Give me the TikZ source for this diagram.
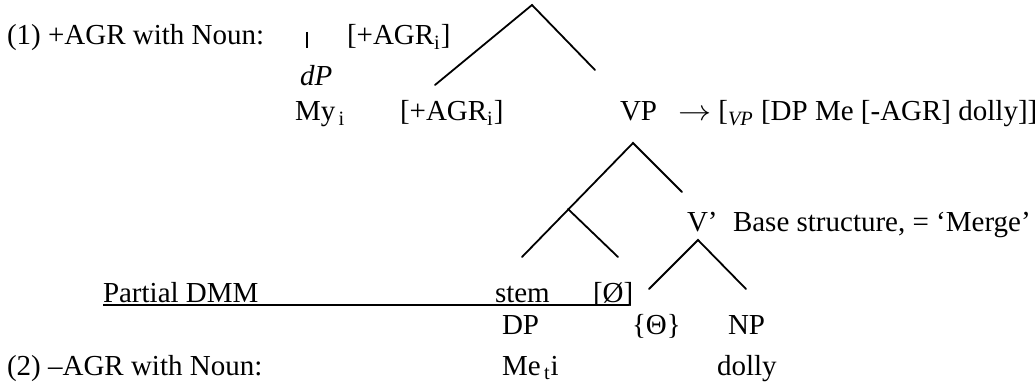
\documentclass[tikz,border=0pt]{standalone}
\usepackage{fontspec}
\setmainfont{Liberation Serif}
\usepackage{tikz}
\usetikzlibrary{calc}
\usetikzlibrary{positioning}

\begin{document}
\begin{tikzpicture}[
		x=0.5pt, y=-0.5pt,
		font=\fontsize{14.5}{17}\selectfont,
		lbl/.style = {anchor=base west, inner sep=0pt, outer sep=0pt},
		br/.style = {line width=0.9pt, line cap=round}
		]
		\useasboundingbox (0, 0) rectangle (1035, 385);
		
		%Nodes
		\node[lbl]	(ex1)		at	(7, 45)		{(1) +AGR with Noun:};
		\node[lbl]	(agr1)		at	(347, 45)	{[+AGR\textsubscript{i}]};
		\node[lbl]	(dp)		at	(300, 86)	{\textit{dP}};
		\node[lbl]	(my)		at	(295, 121)	{My\textsubscript{\,i}};
		\node[lbl]	(agr2)		at	(400, 121)	{[+AGR\textsubscript{i}]};
		\node[lbl]	(vp)		at	(620, 121)	{VP};
		\node[lbl]	(rule)		at	(678, 121)	{\scalebox{1.15}[1]{$\rightarrow$} [\textsubscript{\textit{VP}} [DP Me [-AGR] dolly]]};
		\node[lbl]	(vbar)		at	(687, 232)	{V’};
		\node[lbl]	(merge)		at	(733, 232)	{Base structure, = ‘Merge’};
		\node[lbl]	(partial)	at	(103, 302)	{Partial DMM};
		\node[lbl]	(stem)		at	(495, 302)	{stem};
		\node[lbl]	(null)		at	(593, 302)	{[Ø]};
		\node[lbl]	(dpw)		at	(502, 335)	{DP};
		\node[lbl]	(theta)		at	(632, 335)	{\{Θ\}};
		\node[lbl]	(np)		at	(728, 335)	{NP};
		\node[lbl]	(ex2)		at	(7, 375)	{(2) –AGR with Noun:};
		\node[lbl]	(me)		at	(502, 375)	{Me\textsubscript{\,t}i};
		\node[lbl]	(dolly)		at	(717, 375)	{dolly};
		
		%Joints
		\coordinate	(bartop)	at	(307, 32);
		\coordinate	(barbot)	at	(307, 48);
		\coordinate	(top)		at	(532, 5);
		\coordinate	(topl)		at	(435, 85);
		\coordinate	(topr)		at	(595, 70);
		\coordinate	(vptop)		at	(633, 143);
		\coordinate	(vpr)		at	(682, 192);
		\coordinate	(dpjoin)	at	(568, 209);
		\coordinate	(dpl)		at	(522, 257);
		\coordinate	(dpr)		at	(618, 257);
		\coordinate	(vbtop)		at	(698, 240);
		\coordinate	(vbl)		at	(649, 289);
		\coordinate	(vbr)		at	(746, 289);
		\coordinate	(ulend)		at	(629, 305);
		
		%Lines
		\draw[line width=0.6pt]	(bartop)	--	(barbot);
		\draw[br]	(topl)		--	(top)		--	(topr);
		\draw[br]	(dpl)		--	(vptop)		--	(vpr);
		\draw[br]	(dpjoin)	--	(dpr);
		\draw[br]	(vbl)		--	(vbtop)		--	(vbr);
		\draw[line width=1pt]	(partial.base west)	++(0, 3)	--	(ulend);
	\end{tikzpicture}
\end{document}
